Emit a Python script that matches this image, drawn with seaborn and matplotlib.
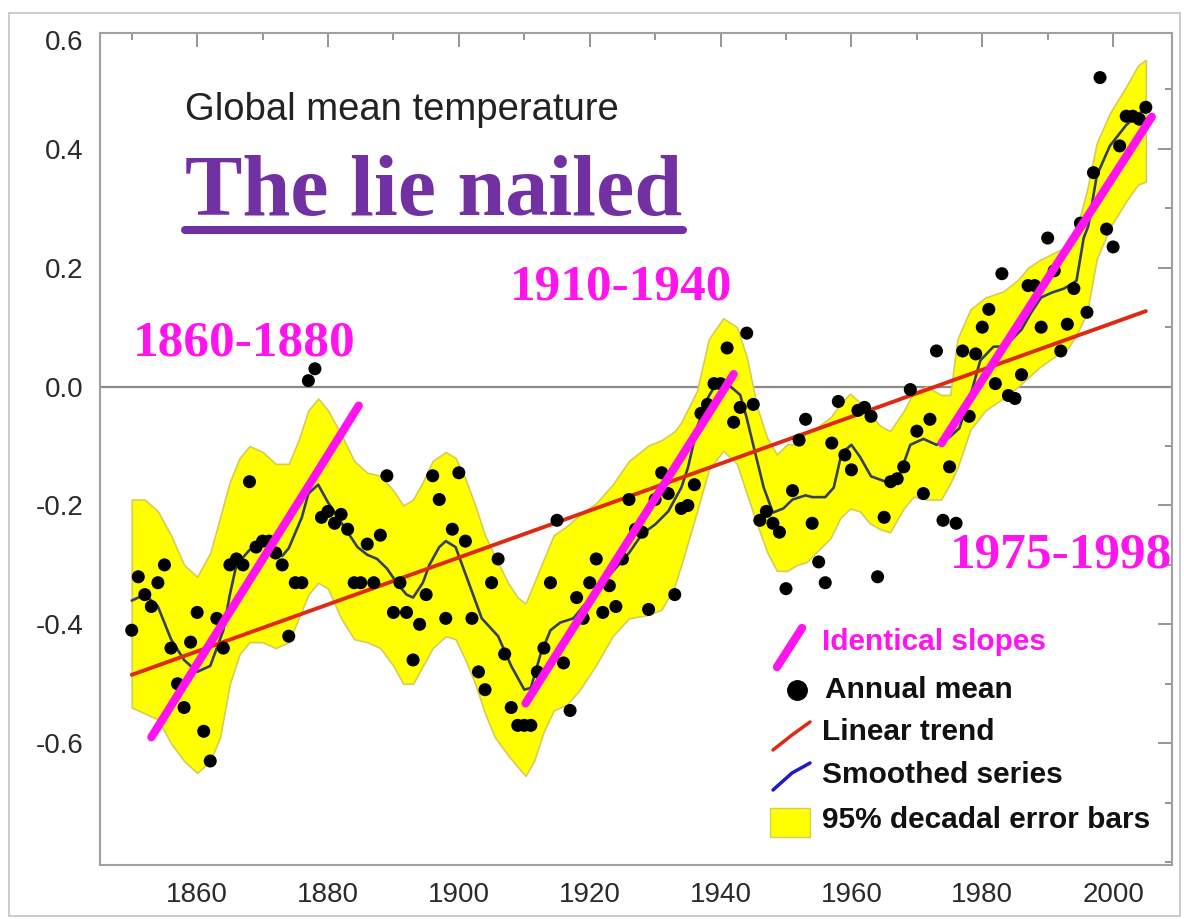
import matplotlib
matplotlib.use("Agg")
import matplotlib.pyplot as plt
import seaborn as sns
from matplotlib.lines import Line2D
from matplotlib.patches import Rectangle
from matplotlib.ticker import FixedLocator, MultipleLocator

# ---------------- data ----------------
years = list(range(1850, 2006))
annual_mean = [
    -0.41, -0.32, -0.35, -0.37, -0.33, -0.30, -0.44, -0.50, -0.54, -0.43,
    -0.38, -0.58, -0.63, -0.39, -0.44, -0.30, -0.29, -0.30, -0.16, -0.27,
    -0.26, -0.26, -0.28, -0.30, -0.42, -0.33, -0.33, 0.01, 0.03, -0.22,
    -0.21, -0.23, -0.215, -0.24, -0.33, -0.33, -0.265, -0.33, -0.25, -0.15,
    -0.38, -0.33, -0.38, -0.46, -0.40, -0.35, -0.15, -0.19, -0.39, -0.24,
    -0.145, -0.26, -0.39, -0.48, -0.51, -0.33, -0.29, -0.45, -0.54, -0.57,
    -0.57, -0.57, -0.48, -0.44, -0.33, -0.225, -0.465, -0.545, -0.355, -0.39,
    -0.33, -0.29, -0.38, -0.335, -0.37, -0.29, -0.19, -0.24, -0.245, -0.375,
    -0.19, -0.145, -0.18, -0.35, -0.205, -0.20, -0.165, -0.045, -0.03, 0.005,
    0.005, 0.065, -0.06, -0.035, 0.09, -0.03, -0.225, -0.21, -0.23, -0.245,
    -0.34, -0.175, -0.09, -0.055, -0.23, -0.295, -0.33, -0.095, -0.025, -0.115,
    -0.14, -0.04, -0.035, -0.05, -0.32, -0.22, -0.16, -0.155, -0.135, -0.005,
    -0.075, -0.18, -0.055, 0.06, -0.225, -0.135, -0.23, 0.06, -0.05, 0.055,
    0.10, 0.13, 0.005, 0.19, -0.015, -0.02, 0.02, 0.17, 0.17, 0.10,
    0.25, 0.195, 0.06, 0.105, 0.165, 0.275, 0.125, 0.36, 0.52, 0.265,
    0.235, 0.405, 0.455, 0.455, 0.45, 0.47,
]

smooth_years = [
    1850, 1852, 1854, 1856, 1858, 1860, 1862, 1864, 1865, 1866,
    1868, 1870, 1871, 1873, 1874, 1876, 1877, 1878.5, 1880, 1881.5,
    1883, 1884.5, 1886, 1887.5, 1889, 1890.5, 1892, 1893, 1894.5, 1895.5,
    1897, 1898, 1899.5, 1900.5, 1902, 1903.5, 1906, 1908, 1910, 1911,
    1912.5, 1914, 1915.5, 1917.5, 1919, 1920, 1922, 1924, 1926, 1928,
    1930, 1932, 1934, 1935, 1936.5, 1938, 1939.5, 1941, 1943, 1944,
    1945.3, 1946.6, 1948, 1949.6, 1951, 1953, 1954, 1956, 1957.3, 1958.5,
    1960, 1961.3, 1963, 1966, 1967, 1969, 1971, 1973, 1975, 1976.5,
    1978.4, 1979.7, 1981.7, 1983.5, 1986, 1987.5, 1989, 1990.6, 1992.5, 1994.4,
    1995.5, 1996.2, 1997.5, 1999.5, 2002, 2004, 2005,
]
smooth_vals = [
    -0.36, -0.35, -0.37, -0.425, -0.46, -0.48, -0.47, -0.41, -0.35, -0.30,
    -0.275, -0.265, -0.272, -0.285, -0.272, -0.22, -0.18, -0.165, -0.195, -0.22,
    -0.245, -0.27, -0.283, -0.29, -0.306, -0.33, -0.35, -0.355, -0.33, -0.30,
    -0.27, -0.26, -0.27, -0.30, -0.345, -0.39, -0.42, -0.47, -0.51, -0.507,
    -0.45, -0.41, -0.397, -0.39, -0.37, -0.358, -0.33, -0.305, -0.28, -0.248,
    -0.232, -0.21, -0.17, -0.137, -0.066, -0.02, 0.008, 0.005, -0.014, -0.053,
    -0.112, -0.17, -0.212, -0.205, -0.19, -0.183, -0.186, -0.186, -0.17, -0.112,
    -0.098, -0.118, -0.151, -0.163, -0.16, -0.098, -0.088, -0.098, -0.085, -0.07,
    -0.007, 0.044, 0.067, 0.068, 0.096, 0.125, 0.15, 0.158, 0.165, 0.178,
    0.25, 0.27, 0.355, 0.405, 0.44, 0.46, 0.465,
]

band_years = [
    1850, 1852, 1854, 1856, 1858, 1860, 1862, 1863.5, 1865, 1866.5,
    1868, 1870, 1872, 1874, 1875.5, 1877, 1878.5, 1880, 1882, 1884,
    1886, 1888, 1890, 1891.5, 1893, 1894.5, 1896, 1898, 1899.5, 1901,
    1902.5, 1904, 1905.5, 1907.5, 1909, 1910.2, 1911.5, 1913, 1914.5, 1916.5,
    1918.5, 1921, 1923.5, 1926, 1929, 1931, 1933, 1934, 1936.4, 1938.2,
    1940.4, 1942.5, 1944, 1945.6, 1947.1, 1948.6, 1950.2, 1951.7, 1953.2, 1954.7,
    1956.8, 1958.3, 1959.8, 1961.3, 1962.8, 1964.4, 1965.9, 1968, 1969.5, 1971.5,
    1973.7, 1975.1, 1976.2, 1978.2, 1980.5, 1983.2, 1985.5, 1987, 1988.8, 1991,
    1992.8, 1994.3, 1996, 1997.5, 1999.5, 2002, 2003.8, 2005,
]
band_upper = [
    -0.19, -0.19, -0.21, -0.25, -0.30, -0.32, -0.28, -0.22, -0.16, -0.12,
    -0.10, -0.11, -0.13, -0.13, -0.09, -0.04, -0.02, -0.04, -0.08, -0.125,
    -0.145, -0.15, -0.175, -0.20, -0.19, -0.16, -0.125, -0.11, -0.12, -0.155,
    -0.20, -0.25, -0.285, -0.33, -0.355, -0.365, -0.33, -0.29, -0.25, -0.235,
    -0.215, -0.196, -0.165, -0.125, -0.099, -0.09, -0.075, -0.06, -0.007, 0.08,
    0.115, 0.10, 0.05, -0.035, -0.086, -0.114, -0.097, -0.097, -0.075, -0.069,
    -0.052, -0.029, -0.012, -0.027, -0.046, -0.066, -0.075, -0.041, -0.01, 0.0,
    -0.014, -0.014, 0.08, 0.13, 0.15, 0.16, 0.18, 0.20, 0.213, 0.225,
    0.235, 0.26, 0.33, 0.41, 0.46, 0.505, 0.54, 0.55,
]
band_lower = [
    -0.54, -0.55, -0.56, -0.60, -0.63, -0.65, -0.63, -0.59, -0.50, -0.45,
    -0.43, -0.43, -0.44, -0.43, -0.39, -0.35, -0.33, -0.34, -0.39, -0.425,
    -0.43, -0.44, -0.47, -0.50, -0.50, -0.47, -0.44, -0.42, -0.425, -0.46,
    -0.50, -0.55, -0.59, -0.62, -0.64, -0.655, -0.63, -0.58, -0.545, -0.535,
    -0.51, -0.468, -0.42, -0.39, -0.384, -0.375, -0.335, -0.30, -0.21, -0.14,
    -0.108, -0.13, -0.18, -0.232, -0.278, -0.31, -0.31, -0.30, -0.295, -0.278,
    -0.255, -0.221, -0.205, -0.21, -0.23, -0.24, -0.245, -0.205, -0.185, -0.19,
    -0.19, -0.163, -0.137, -0.072, -0.04, -0.02, 0.0, 0.015, 0.033, 0.05,
    0.06, 0.085, 0.124, 0.215, 0.267, 0.312, 0.34, 0.345,
]

trend_years = [1850, 2005]
trend_vals = [-0.485, 0.127]

slope_labels = ["1860-1880", "1910-1940", "1975-1998"]
slope_x = [[1853.0, 1884.7], [1910.2, 1942.0], [1973.8, 2005.9]]
slope_y = [[-0.59, -0.032], [-0.533, 0.021], [-0.095, 0.454]]

x_ticks = [1860, 1880, 1900, 1920, 1940, 1960, 1980, 2000]
x_tick_labels = ["1860", "1880", "1900", "1920", "1940", "1960", "1980", "2000"]
y_ticks = [-0.6, -0.4, -0.2, 0.0, 0.2, 0.4]
y_tick_labels = ["-0.6", "-0.4", "-0.2", "0.0", "0.2", "0.4"]
top_y_label = "0.6"

subtitle = "Global mean temperature"
headline = "The lie nailed"
legend_labels = ["Identical slopes", "Annual mean", "Linear trend",
                 "Smoothed series", "95% decadal error bars"]

# ---------------- styling ----------------
W, H = 1184, 919
MAGENTA = "#ff14f0"
PURPLE = "#7231a3"
YELLOW = "#ffff00"
BAND_EDGE = "#d6cc55"
RED = "#de2a12"
SMOOTH = "#34405e"

sns.set_theme(style="white")
plt.rcParams["font.family"] = ["Liberation Sans", "DejaVu Sans"]


def fx(x):
    return x / W


def fy(y):
    return 1 - y / H


fig = plt.figure(figsize=(W / 100, H / 100), dpi=100)
fig.patch.set_facecolor("white")

L, R, T, B = 100, 1172, 33, 865
ax = fig.add_axes([L / W, 1 - B / H, (R - L) / W, (B - T) / H])
ax.set_facecolor("white")
ax.set_xlim(1845.15, 2009.0)
ax.set_ylim(-0.805, 0.595)

# zero line
ax.axhline(0, color="#8a8a8a", lw=1.6, zorder=0.5)

# error band
ax.fill_between(band_years, band_lower, band_upper, facecolor=YELLOW,
                edgecolor=BAND_EDGE, lw=1.2, zorder=1)

# smoothed series and trend
sns.lineplot(x=smooth_years, y=smooth_vals, ax=ax, color=SMOOTH, lw=1.9,
             estimator=None, sort=False, zorder=3)
sns.lineplot(x=trend_years, y=trend_vals, ax=ax, color=RED, lw=2.8,
             estimator=None, sort=False, zorder=3.5)

# annual means
sns.scatterplot(x=years, y=annual_mean, ax=ax, color="black", s=88,
                edgecolor="none", linewidth=0, zorder=4)

# identical slopes
for xs, ys in zip(slope_x, slope_y):
    ax.plot(xs, ys, color=MAGENTA, lw=6, solid_capstyle="round", zorder=5)

# ticks
ax.xaxis.set_major_locator(FixedLocator(x_ticks))
ax.set_xticklabels(x_tick_labels)
ax.xaxis.set_minor_locator(MultipleLocator(10))
ax.yaxis.set_major_locator(FixedLocator(y_ticks))
ax.set_yticklabels(y_tick_labels)
ax.yaxis.set_minor_locator(MultipleLocator(0.1))
ax.tick_params(which="both", direction="in", top=True, right=True,
               color="#8c8c8c", width=1.3)
ax.tick_params(which="major", length=10, labelsize=20, pad=12,
               labelcolor="#2a2a2a")
ax.tick_params(which="minor", length=5)
for sp in ax.spines.values():
    sp.set_color("#a0a0a0")
    sp.set_linewidth(1.5)
ax.set_xlabel("")
ax.set_ylabel("")
fig.text(fx(83), fy(43), top_y_label, ha="right", va="center", fontsize=20,
         color="#2a2a2a")

# titles
fig.text(fx(185), fy(120), subtitle, ha="left", va="baseline", fontsize=27.5,
         color="#222222")
fig.text(fx(185), fy(215), headline, ha="left", va="baseline", fontsize=62,
         fontweight="bold", family=["Liberation Serif", "DejaVu Serif"],
         color=PURPLE)
fig.add_artist(Line2D([fx(185), fx(683)], [fy(229.5), fy(229.5)],
                      transform=fig.transFigure, color=PURPLE, lw=5.8))

# period labels
label_pos = [(133, 355), (510, 300), (950, 568)]
for txt, (px, py) in zip(slope_labels, label_pos):
    fig.text(fx(px), fy(py), txt, ha="left", va="baseline", fontsize=37,
             fontweight="bold", family=["Liberation Serif", "DejaVu Serif"],
             color=MAGENTA)

# custom legend
fig.add_artist(Line2D([fx(777), fx(802)], [fy(667), fy(628)],
                      transform=fig.transFigure, color=MAGENTA, lw=6,
                      solid_capstyle="round"))
fig.add_artist(Line2D([fx(797)], [fy(690)], transform=fig.transFigure,
                      marker="o", markersize=14, color="black", lw=0))
fig.add_artist(Line2D([fx(773), fx(792), fx(810)], [fy(750), fy(735), fy(722)],
                      transform=fig.transFigure, color=RED, lw=2.5))
fig.add_artist(Line2D([fx(773), fx(792), fx(810)], [fy(790), fy(773), fy(763)],
                      transform=fig.transFigure, color="#1b1bc8", lw=2.5))
fig.add_artist(Rectangle((fx(770), fy(837)), fx(810) - fx(770), fy(808) - fy(837),
                         transform=fig.transFigure, facecolor=YELLOW,
                         edgecolor=BAND_EDGE, lw=1))
legend_y = [642, 690, 732, 775, 820]
legend_x = [822, 825, 822, 822, 822]
legend_colors = [MAGENTA, "#111111", "#111111", "#111111", "#111111"]
for txt, lx, ly, c in zip(legend_labels, legend_x, legend_y, legend_colors):
    fig.text(fx(lx), fy(ly), txt, ha="left", va="center", fontsize=21.5,
             fontweight="bold", color=c)

# outer frame of the picture
fig.add_artist(Rectangle((fx(9), fy(916)), fx(1180) - fx(9), fy(13) - fy(916),
                         transform=fig.transFigure, fill=False,
                         edgecolor="#c4c4c4", lw=1.2))

fig.savefig("out.png", dpi=100, facecolor="white")
